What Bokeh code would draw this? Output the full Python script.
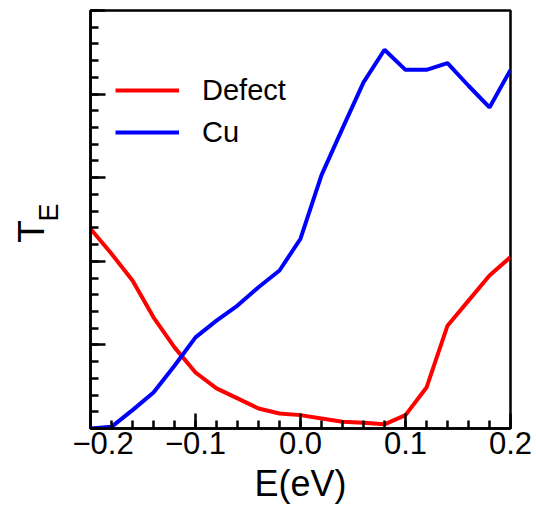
import math
from bokeh.plotting import figure
from bokeh.layouts import row
from bokeh.models import FixedTicker, Range1d, Title, Legend, LegendItem, CustomJSTickFormatter
from bokeh.core.properties import value
from bokeh.embed import file_html
from bokeh.resources import INLINE

# Data
energy = [-0.20, -0.18, -0.16, -0.14, -0.12, -0.10, -0.08, -0.06, -0.04, -0.02,
          0.00, 0.02, 0.04, 0.06, 0.08, 0.10, 0.12, 0.14, 0.16, 0.18, 0.20]
defect = [2.39, 2.09, 1.77, 1.33, 0.97, 0.67, 0.48, 0.36, 0.24, 0.18,
          0.16, 0.12, 0.08, 0.07, 0.05, 0.16, 0.49, 1.23, 1.53, 1.83, 2.05]
cu = [0.00, 0.02, 0.22, 0.43, 0.75, 1.09, 1.29, 1.47, 1.69, 1.89,
      2.27, 3.03, 3.59, 4.14, 4.53, 4.29, 4.29, 4.37, 4.10, 3.84, 4.29]
x_ticks = [-0.2, -0.1, 0.0, 0.1, 0.2]
x_tick_labels = ["\u22120.2", "\u22120.1", "0.0", "0.1", "0.2"]
y_ticks = [0, 1, 2, 3, 4, 5]
series_names = ["Defect", "Cu"]
x_title = "E(eV)"
y_title_main = "T"
y_title_sub = "E"

FONT = "Liberation Sans"

# ---- side panel holding the rotated y title (T with subscript E) ----
LW, LH = 72, 500
lab = figure(frame_width=LW, frame_height=LH, output_backend="svg", toolbar_location=None,
             x_range=Range1d(0, LW), y_range=Range1d(LH, 0),
             x_axis_location=None, y_axis_location=None,
             min_border_left=0, min_border_right=0, min_border_top=0, min_border_bottom=0,
             min_border=0)
lab.grid.visible = False
lab.outline_line_color = None
lab.background_fill_color = "white"
lab.border_fill_color = "white"
lab.text(x=[31], y=[221], text=[y_title_main], angle=math.pi / 2,
         text_font=value(FONT), text_font_size="37px", text_color="black",
         text_align="center", text_baseline="middle")
lab.text(x=[48], y=[202], text=[y_title_sub], angle=math.pi / 2,
         text_font=value(FONT), text_font_size="27px", text_color="black",
         text_align="center", text_baseline="middle")

# ---- main plot ----
p = figure(frame_width=420, frame_height=418, output_backend="svg", toolbar_location=None,
           x_range=Range1d(-0.2, 0.2), y_range=Range1d(0, 5),
           min_border_left=90 - LW, min_border_right=26, min_border_top=10, min_border_bottom=0)
p.background_fill_color = "white"
p.border_fill_color = "white"
p.grid.visible = False
p.outline_line_color = "black"
p.outline_line_width = 2.5

r_def = p.line(energy, defect, line_color="#ff0000", line_width=4)
r_cu = p.line(energy, cu, line_color="#0000ff", line_width=4)

# x axis
xa = p.xaxis[0]
xa.ticker = FixedTicker(ticks=x_ticks,
                        minor_ticks=[round(-0.2 + 0.02 * i, 2) for i in range(21)])
xa.major_label_overrides = {t: l for t, l in zip(x_ticks, x_tick_labels)}
xa.major_label_text_font = FONT
xa.major_label_text_font_size = "31px"
xa.major_label_text_color = "black"
xa.major_label_standoff = 3
xa.axis_line_width = 2.5
xa.axis_line_color = "black"
xa.major_tick_in = 15
xa.major_tick_out = 0
xa.minor_tick_in = 8
xa.minor_tick_out = 0
xa.major_tick_line_width = 2.5
xa.minor_tick_line_width = 2.5
xa.major_tick_line_color = "black"
xa.minor_tick_line_color = "black"

# y axis (ticks only)
ya = p.yaxis[0]
ya.ticker = FixedTicker(ticks=y_ticks, minor_ticks=[round(0.2 * i, 1) for i in range(26)])
ya.formatter = CustomJSTickFormatter(code="return ''")
ya.major_label_standoff = 0
ya.axis_line_width = 2.5
ya.axis_line_color = "black"
ya.major_tick_in = 15
ya.major_tick_out = 0
ya.minor_tick_in = 8
ya.minor_tick_out = 0
ya.major_tick_line_width = 2.5
ya.minor_tick_line_width = 2.5
ya.major_tick_line_color = "black"
ya.minor_tick_line_color = "black"

# x title
p.add_layout(Title(text=x_title, align="center", text_font=FONT, text_font_size="36px",
                   text_font_style="normal", text_color="black", standoff=9), "below")

legend = Legend(items=[LegendItem(label=series_names[0], renderers=[r_def]),
                       LegendItem(label=series_names[1], renderers=[r_cu])],
                location=(25, 275))
legend.border_line_color = None
legend.background_fill_alpha = 0
legend.padding = 0
legend.margin = 0
legend.spacing = 0
legend.glyph_width = 64
legend.glyph_height = 42
legend.label_height = 42
legend.label_standoff = 23
legend.label_text_font = FONT
legend.label_text_font_size = "29px"
legend.label_text_color = "black"
p.add_layout(legend, "center")

layout = row(lab, p, spacing=0)
open("out.html", "w").write(file_html(layout, INLINE))
